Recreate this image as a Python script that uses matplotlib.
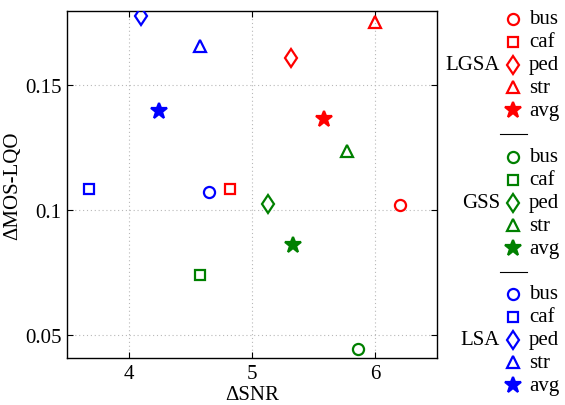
import matplotlib
matplotlib.use('Agg')
import matplotlib.pyplot as plt
from matplotlib.lines import Line2D

plt.rcParams['font.family'] = ['Liberation Serif', 'DejaVu Serif']

noise_types = ['bus', 'caf', 'ped', 'str', 'avg']
markers = ['o', 's', 'd', '^', '*']
methods = ['LGSA', 'GSS', 'LSA']
colors = {'LGSA': 'red', 'GSS': 'green', 'LSA': 'blue'}

# delta SNR / delta MOS-LQO per method, order: bus, caf, ped, str, avg
snr = {
    'LGSA': [6.20, 4.82, 5.32, 6.00, 5.58],
    'GSS': [5.86, 4.58, 5.13, 5.77, 5.33],
    'LSA': [4.655, 3.68, 4.10, 4.575, 4.243],
}
mos = {
    'LGSA': [0.1020, 0.1084, 0.1608, 0.1753, 0.1366],
    'GSS': [0.0444, 0.0740, 0.1024, 0.1238, 0.0860],
    'LSA': [0.1071, 0.1084, 0.1777, 0.1656, 0.1396],
}

msizes = {'o': 8, 's': 6.5, 'd': 9.5, '^': 8.5, '*': 12}

fig = plt.figure(figsize=(5.65, 4.06), dpi=100)
ax = fig.add_axes([0.1186, 0.1158, 0.6549, 0.8546])

for m in methods:
    for i, mk in enumerate(markers):
        face = colors[m] if mk == '*' else 'none'
        ax.plot(snr[m][i], mos[m][i], linestyle='none', marker=mk,
                ms=msizes[mk], mec=colors[m], mfc=face, mew=1.6, zorder=3)

ax.set_xlim(3.5, 6.5)
ax.set_ylim(0.0408, 0.1796)
ax.set_xticks([4, 5, 6])
ax.set_xticklabels(['4', '5', '6'])
ax.set_yticks([0.05, 0.1, 0.15])
ax.set_yticklabels(['0.05', '0.1', '0.15'])
ax.grid(True, linestyle=(0, (1, 2.5)), color='#b8b8b8', linewidth=0.8, zorder=0)
ax.tick_params(direction='in', top=True, right=True, length=4,
               width=0.8, labelsize=15, pad=4)
for s in ax.spines.values():
    s.set_linewidth(1.0)
ax.set_xlabel('ΔSNR', fontsize=15, labelpad=2)
ax.set_ylabel('ΔMOS-LQO', fontsize=15)
ax.yaxis.set_label_coords(-0.122, 0.5)

# custom grouped legend on the right
W, H = 565.0, 406.0
row_h = 22.8
group_top = {'LGSA': 20, 'GSS': 158, 'LSA': 295}
sep_y = [135, 273]
mk_x = 513
for m in methods:
    y0 = group_top[m]
    for i, (nt, mk) in enumerate(zip(noise_types, markers)):
        y = y0 + i * row_h
        face = colors[m] if mk == '*' else 'none'
        fig.add_artist(Line2D([mk_x / W], [1 - y / H], linestyle='none',
                              marker=mk, ms=msizes[mk], mec=colors[m],
                              mfc=face, mew=1.6, transform=fig.transFigure))
        fig.text(529 / W, 1 - y / H, nt, fontsize=15, ha='left', va='center')
    fig.text(500 / W, 1 - (y0 + 2 * row_h) / H, m, fontsize=15,
             ha='right', va='center')
for y in sep_y:
    fig.add_artist(Line2D([500 / W, 527 / W], [1 - y / H, 1 - y / H],
                          color='black', lw=0.8, transform=fig.transFigure))

fig.savefig('out.png', dpi=100)
